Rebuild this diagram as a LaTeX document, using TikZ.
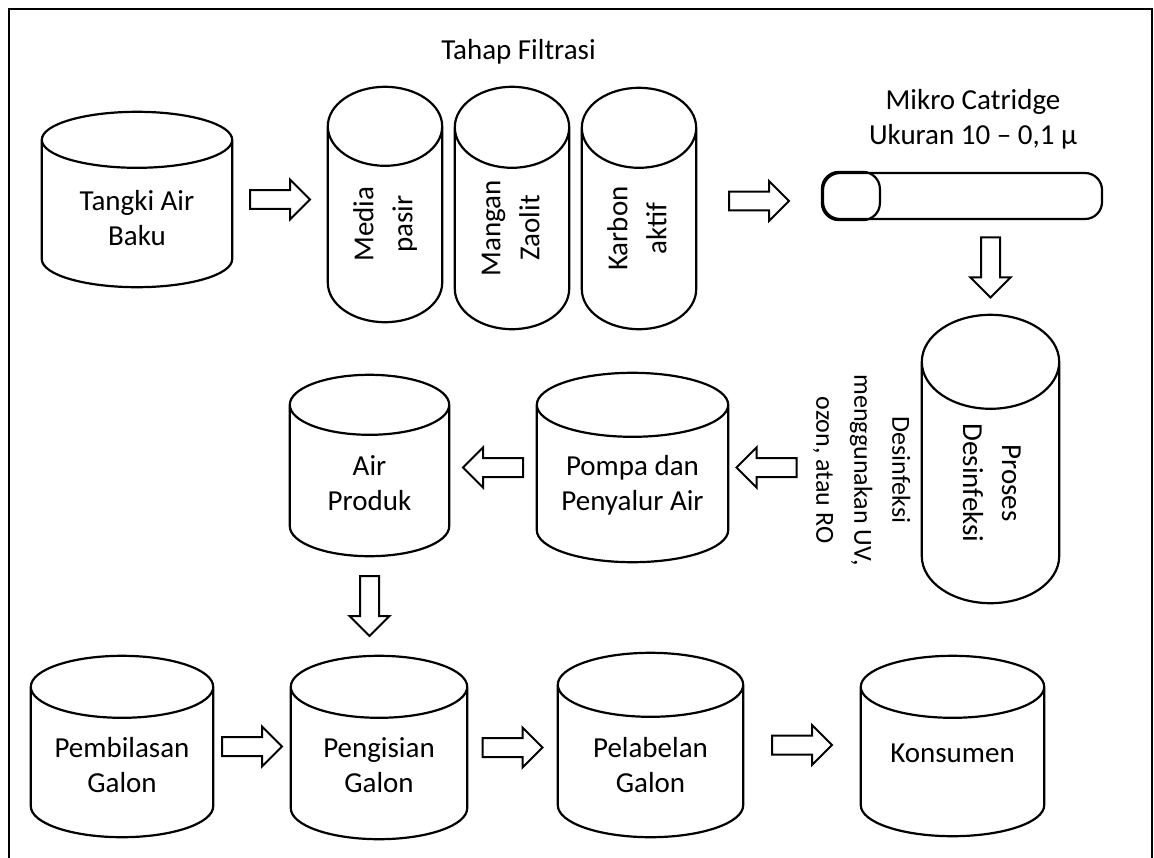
\documentclass[tikz,border=0pt]{standalone}
\usepackage{fontspec}
\setmainfont{Carlito}
\usepackage{graphicx}
\usetikzlibrary{calc}

\newcommand\tanktext[2][21pt]{\raisebox{-#1}[\height][\depth]{\begin{tabular}{@{}c@{}}#2\end{tabular}}}
\newcommand\turntext[3][20pt]{\raisebox{-#1}[\height][\depth]{\rotatebox{#2}{\fontsize{29}{39}\selectfont\begin{tabular}{@{}c@{}}#3\end{tabular}}}}

\tikzset{
  tank/.style 2 args={minimum width=#1, minimum height=#2, inner sep=0pt},
  tankline/.style={line width=2.2pt},
  blockarrow/.style={draw, line width=2pt, line join=miter, to path={
    let \p1=(\tikztostart), \p2=(\tikztotarget), \n1={atan2(\y2-\y1,\x2-\x1)} in
    ($(\p1)!.5!(\p2)$) ++(\n1:-30pt) ++(\n1+90:9.5pt)
    -- ++(\n1:40pt) -- ++(\n1+90:10.5pt) -- ++(\n1-45:28.28pt)
    -- ++(\n1-135:28.28pt) -- ++(\n1+90:10.5pt) -- ++(\n1+180:40pt) -- cycle}}
}

\begin{document}
\begin{tikzpicture}[x=1pt, y=1pt, font=\fontsize{29}{35}\selectfont]
\useasboundingbox (0,0) rectangle (1154,-857);
\draw[line width=2.2pt] (9,-880) -- (9,-9) -- (1152,-9) -- (1152,-880);

% filtrasi
\node[tank={190pt}{175pt}] (tangki) at (137,-199.5) {\tanktext[21.5pt]{Tangki Air\\Baku}};
\node[anchor=base] (filtrasi) at (518.5,-59) {Tahap Filtrasi};
\node[tank={114pt}{235pt}] (media) at (385,-204.5) {\turntext[19.5pt]{90}{Media\\pasir}};
\node[tank={114pt}{242pt}] (mangan) at (512,-208) {\turntext{90}{Mangan\\Zaolit}};
\node[tank={114pt}{241pt}] (karbon) at (639,-208.5) {\turntext{90}{Karbon\\aktif}};

\node[draw, tankline, rounded corners=17pt, minimum width=279pt, minimum height=46pt] (mikro) at (962.5,-196) {};
\draw[tankline, rounded corners=17pt] (mikro.north west) rectangle ([xshift=58pt]mikro.south west);
\node (mikrolabel) at (973,-120) {\begin{tabular}{@{}c@{}}Mikro Catridge\\Ukuran 10 – 0,1 µ\end{tabular}};
\coordinate (mikroin) at ([yshift=-5pt]mikro.west);

% desinfeksi
\node[tank={137pt}{288pt}] (proses) at (990.5,-459) {\turntext[24pt]{-90}{Proses\\Desinfeksi}};
\node[inner sep=0pt, font=\fontsize{26}{38}\selectfont] (uvnote) at (862,-470)
  {\rotatebox{-90}{\begin{tabular}{@{}c@{}}Desinfeksi\\menggunakan UV,\\ozon, atau RO\end{tabular}}};
\node[tank={191pt}{189pt}] (pompa) at (632.5,-467.5) {\tanktext[18pt]{Pompa dan\\Penyalur Air}};
\node[tank={159pt}{181pt}] (produk) at (369.5,-465.5) {\tanktext[20pt]{Air\\Produk}};

% galon
\node[tank={182pt}{181pt}] (bilas) at (122,-746.5) {\tanktext{Pembilasan\\Galon}};
\node[tank={176pt}{183pt}] (isi) at (379,-747.5) {\tanktext[20pt]{Pengisian\\Galon}};
\node[tank={185pt}{184pt}] (pelabelan) at (650.5,-745) {\tanktext[22.5pt]{Pelabelan\\Galon}};
\node[tank={183pt}{180pt}] (konsumen) at (952.5,-746) {\tanktext[9pt]{Konsumen}};

\foreach \t/\ry in {tangki/28pt, media/39.5pt, mangan/40.5pt, karbon/40pt, proses/47pt,
    pompa/32pt, produk/30pt, bilas/31pt, isi/31pt, pelabelan/32pt, konsumen/31pt}
  \draw[tankline] let \p1=(\t.north west), \p2=(\t.south east) in
    (\x1,\y1-\ry) arc[start angle=180, end angle=-180, x radius={(\x2-\x1)/2}, y radius=\ry]
    -- (\x1,\y2+\ry) arc[start angle=180, end angle=360, x radius={(\x2-\x1)/2}, y radius=\ry]
    -- (\x2,\y1-\ry);

\draw[blockarrow] (tangki.east) to (tangki.east -| media.west);
\draw[blockarrow] (mikroin -| karbon.east) to (mikroin);
\draw[blockarrow] (proses.north |- mikro.south) to (proses.north);
\draw[blockarrow] (pompa.east -| uvnote.west) to (pompa.east);
\draw[blockarrow] (pompa.west) to (pompa.west -| produk.east);
\draw[blockarrow] (produk.south) to (produk.south |- isi.north);
\draw[blockarrow] (bilas.east) to (bilas.east -| isi.west);
\draw[blockarrow] (isi.east) to (isi.east -| pelabelan.west);
\draw[blockarrow] (pelabelan.east) to (pelabelan.east -| konsumen.west);
\end{tikzpicture}
\end{document}
